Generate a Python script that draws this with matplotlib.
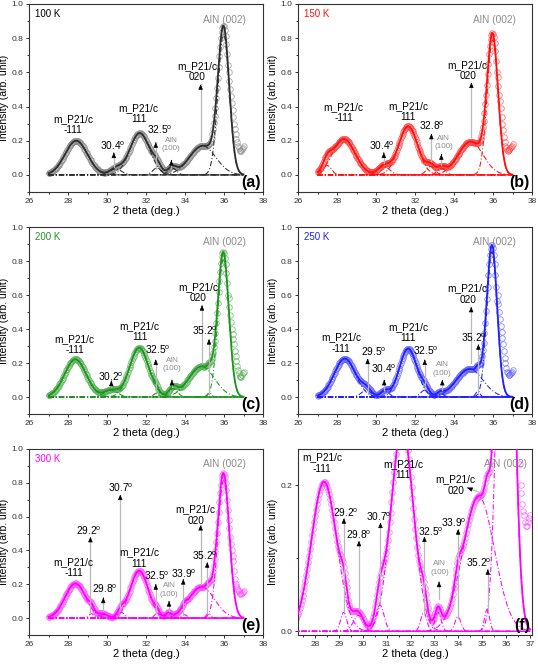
import numpy as np
import matplotlib
matplotlib.use('Agg')
import matplotlib.pyplot as plt
from matplotlib.ticker import MultipleLocator

plt.rcParams['font.family'] = ['Liberation Sans', 'DejaVu Sans']
plt.rcParams['mathtext.fontset'] = 'custom'
plt.rcParams['mathtext.rm'] = 'Liberation Sans'

# fitted peaks: (centre 2theta, height, FWHM)
peaks_100K = [(28.42, 0.200, 1.35), (30.45, 0.035, 0.70), (31.68, 0.245, 1.20),
              (32.55, 0.040, 0.50), (33.35, 0.040, 0.50), (34.90, 0.170, 1.60),
              (35.98, 0.825, 0.68)]
peaks_150K = [(27.50, 0.055, 0.50), (28.35, 0.210, 1.35), (30.40, 0.050, 0.70),
              (31.65, 0.285, 1.15), (32.80, 0.050, 0.50), (33.35, 0.040, 0.50),
              (34.85, 0.195, 1.50), (35.98, 0.790, 0.66)]
peaks_200K = [(28.38, 0.222, 1.30), (30.20, 0.040, 0.80), (31.65, 0.290, 1.15),
              (32.50, 0.020, 0.30), (33.40, 0.050, 0.50), (34.85, 0.180, 1.55),
              (35.25, 0.025, 0.25), (35.97, 0.810, 0.66)]
peaks_250K = [(28.40, 0.226, 1.28), (29.50, 0.040, 0.60), (30.45, 0.035, 0.50),
              (31.65, 0.285, 1.05), (32.50, 0.040, 0.50), (33.30, 0.020, 0.40),
              (34.80, 0.165, 1.60), (35.22, 0.035, 0.25), (35.95, 0.855, 0.62)]
peaks_300K = [(28.38, 0.205, 1.25), (29.20, 0.026, 0.30), (29.82, 0.022, 0.50),
              (30.72, 0.036, 0.40), (31.65, 0.280, 1.10), (32.55, 0.026, 0.30),
              (33.15, 0.026, 0.30), (33.98, 0.020, 0.30), (34.85, 0.185, 1.55),
              (35.20, 0.030, 0.25), (35.98, 0.815, 0.69)]

# measured points on the high-angle tail, where data leave the fit
tail_x = [36.24, 36.28, 36.32, 36.36, 36.40, 36.44, 36.48, 36.52, 36.56, 36.60,
          36.64, 36.68, 36.72, 36.76, 36.80, 36.84, 36.88, 36.92, 36.96, 37.00]
tail_100K = [0.60, 0.55, 0.50, 0.46, 0.42, 0.38, 0.34, 0.30, 0.27, 0.24,
             0.21, 0.19, 0.17, 0.155, 0.145, 0.14, 0.14, 0.15, 0.16, 0.17]
tail_150K = [0.57, 0.52, 0.47, 0.43, 0.39, 0.34, 0.30, 0.26, 0.22, 0.19,
             0.17, 0.155, 0.145, 0.14, 0.145, 0.15, 0.16, 0.165, 0.17, 0.18]
tail_200K = [0.58, 0.53, 0.48, 0.44, 0.40, 0.37, 0.34, 0.31, 0.27, 0.24,
             0.21, 0.18, 0.16, 0.14, 0.125, 0.12, 0.12, 0.13, 0.14, 0.15]
tail_250K = [0.60, 0.55, 0.50, 0.46, 0.42, 0.38, 0.35, 0.31, 0.27, 0.23,
             0.20, 0.17, 0.15, 0.14, 0.13, 0.13, 0.135, 0.14, 0.15, 0.16]
tail_300K = [0.58, 0.53, 0.48, 0.44, 0.40, 0.37, 0.34, 0.28, 0.23, 0.20,
             0.19, 0.175, 0.165, 0.16, 0.15, 0.145, 0.145, 0.15, 0.155, 0.16]

temps = ['100 K', '150 K', '200 K', '250 K', '300 K', '300 K']
letters = ['(a)', '(b)', '(c)', '(d)', '(e)', '(f)']

GREY = '#8c8c8c'
SUP = '$^\\mathrm{o}$'

panels = [
    dict(peaks=peaks_100K, tail=tail_100K, line='#2e2e2e', circ='#8a8a8a', lab='k',
         texts=[('m_P21/c\n-111', 28.25, 0.295), ('30.4' + SUP, 30.3, 0.17),
                ('m_P21/c\n111', 31.62, 0.36), ('32.5' + SUP, 32.72, 0.262),
                ('m_P21/c\n020', 34.63, 0.605)],
         aln100=(33.3, 0.178), aln002=(36.0, 0.905),
         arrows=[(30.35, 0.045, 30.35, 0.13), (32.5, 0.035, 32.5, 0.19),
                 (33.3, 0.04, 33.3, 0.086), (34.8, 0.2, 34.8, 0.53)]),
    dict(peaks=peaks_150K, tail=tail_150K, line='#ff1010', circ='#ff4545', lab='#ff1010',
         texts=[('m_P21/c\n-111', 28.33, 0.365), ('30.4' + SUP, 30.29, 0.17),
                ('m_P21/c\n111', 31.65, 0.37), ('32.8' + SUP, 32.84, 0.29),
                ('m_P21/c\n020', 34.7, 0.61)],
         aln100=(33.47, 0.19), aln002=(36.08, 0.905),
         arrows=[(30.4, 0.07, 30.4, 0.13), (32.84, 0.08, 32.84, 0.24),
                 (33.35, 0.06, 33.35, 0.12), (34.89, 0.22, 34.89, 0.54)]),
    dict(peaks=peaks_200K, tail=tail_200K, line='#1e941e', circ='#56b156', lab='#1e941e',
         texts=[('m_P21/c\n-111', 28.34, 0.31), ('30.2' + SUP, 30.19, 0.118),
                ('m_P21/c\n111', 31.67, 0.383), ('32.5' + SUP, 32.58, 0.275),
                ('m_P21/c\n020', 34.66, 0.615), ('35.2' + SUP, 35.02, 0.39)],
         aln100=(33.33, 0.19), aln002=(36.0, 0.91),
         arrows=[(30.22, 0.06, 30.22, 0.095), (32.5, 0.03, 32.5, 0.22),
                 (33.33, 0.06, 33.33, 0.1), (34.87, 0.2, 34.87, 0.54),
                 (35.23, 0.02, 35.23, 0.34)]),
    dict(peaks=peaks_250K, tail=tail_250K, line='#2020ff', circ='#6464ff', lab='#2020ff',
         texts=[('m_P21/c\n-111', 28.2, 0.318), ('29.5' + SUP, 29.9, 0.265),
                ('30.4' + SUP, 30.39, 0.167), ('m_P21/c\n111', 31.65, 0.378),
                ('32.5' + SUP, 32.55, 0.27), ('m_P21/c\n020', 34.7, 0.605),
                ('35.2' + SUP, 35.02, 0.35)],
         aln100=(33.4, 0.165), aln002=(36.05, 0.91),
         arrows=[(29.57, 0.03, 29.57, 0.225), (30.42, 0.04, 30.42, 0.1),
                 (32.5, 0.05, 32.5, 0.22), (33.4, 0.04, 33.4, 0.1),
                 (34.88, 0.2, 34.88, 0.53), (35.25, 0.02, 35.25, 0.31)]),
    dict(peaks=peaks_300K, tail=tail_300K, line='#ff00ff', circ='#ff50ff', lab='#ff00ff',
         texts=[('m_P21/c\n-111', 28.28, 0.297), ('29.2' + SUP, 29.08, 0.518),
                ('29.8' + SUP, 29.86, 0.176), ('30.7' + SUP, 30.72, 0.77),
                ('m_P21/c\n111', 31.65, 0.355), ('32.5' + SUP, 32.53, 0.25),
                ('33.9' + SUP, 33.95, 0.26), ('m_P21/c\n020', 34.55, 0.61),
                ('35.2' + SUP, 35.0, 0.37)],
         aln100=(33.18, 0.166), aln002=(36.0, 0.91),
         arrows=[(29.15, 0.03, 29.15, 0.48), (29.81, 0.04, 29.81, 0.12),
                 (30.68, 0.04, 30.68, 0.73), (32.5, 0.03, 32.5, 0.2),
                 (33.18, 0.04, 33.18, 0.1), (33.91, 0.03, 33.91, 0.23),
                 (34.8, 0.2, 34.8, 0.55), (35.14, 0.03, 35.14, 0.33)]),
]
# zoom of the 300 K pattern
panels.append(dict(panels[4]))
panels[5].update(
    texts=[('m_P21/c\n-111', 28.31, 0.2305), ('m_P21/c\n111', 31.69, 0.222),
           ('m_P21/c\n020', 33.89, 0.2005), ('29.2' + SUP, 29.28, 0.163),
           ('29.8' + SUP, 29.84, 0.133), ('30.7' + SUP, 30.67, 0.157),
           ('32.5' + SUP, 32.86, 0.137), ('33.9' + SUP, 33.8, 0.149),
           ('35.2' + SUP, 34.85, 0.094)],
    aln100=(33.22, 0.087), aln002=(35.97, 0.23),
    arrows=[(29.21, 0.027, 29.21, 0.155), (29.84, 0.031, 29.84, 0.124),
            (30.74, 0.038, 30.74, 0.149), (32.58, 0.025, 32.58, 0.13),
            (33.99, 0.018, 33.99, 0.14), (33.19, 0.045, 33.19, 0.068),
            (35.23, 0.027, 35.23, 0.085), (34.92, 0.19, 34.37, 0.197)])


def gauss(x, c, h, w):
    s = w / 2.3548
    return h * np.exp(-0.5 * ((x - c) / s) ** 2)


def model(x, peaks):
    return sum(gauss(x, *p) for p in peaks)


def arrow(ax, x0, y0, x1, y1):
    ax.plot([x0, x1], [y0, y1], color='#b8b8b8', lw=0.9, zorder=4)
    ax.annotate('', xy=(x1, y1), xytext=(x0 + 0.97 * (x1 - x0), y0 + 0.97 * (y1 - y0)),
                arrowprops=dict(arrowstyle='-|>,head_length=0.3,head_width=0.13',
                                color='k', lw=0.5, shrinkA=0, shrinkB=0), zorder=5)


x_fit = np.linspace(27.0, 37.0, 801)
x_obs = np.arange(27.0, 36.21, 0.04)

fig = plt.figure(figsize=(5.38, 6.67), dpi=100)
lefts = [29 / 538, 298 / 538]
w = 234 / 538
rows = [(1 - 192 / 667, 188 / 667), (1 - 414 / 667, 187 / 667), (1 - 635 / 667, 186 / 667)]

for i, p in enumerate(panels):
    b, h = rows[i // 2]
    ax = fig.add_axes([lefts[i % 2], b, w, h])
    pk = p['peaks']
    xo = np.concatenate([x_obs, tail_x])
    yo = np.concatenate([model(x_obs, pk), p['tail']])
    ax.plot(xo, yo, 'o', ms=4, mfc='none', mec=p['circ'], mew=0.6, alpha=0.75, zorder=2)
    for c in pk:
        ax.plot(x_fit, gauss(x_fit, *c), color=p['line'], lw=0.75,
                ls=(0, (5, 2, 1, 2)), zorder=3)
    ax.plot(x_fit, model(x_fit, pk), color=p['line'], lw=1.3, zorder=3)

    for t, x, y in p['texts']:
        ax.text(x, y, t, ha='center', va='center', fontsize=7.3, linespacing=1.15, zorder=6)
    ax.text(*p['aln100'], 'AlN\n(100)', ha='center', va='center', fontsize=5.8,
            color=GREY, linespacing=1.25, zorder=6)
    ax.text(*p['aln002'], 'AlN (002)', ha='center', va='center', fontsize=7.3,
            color=GREY, zorder=6)
    for a in p['arrows']:
        arrow(ax, *a)

    if i < 5:
        ax.set_xlim(26, 38)
        ax.set_ylim(-0.1, 1.0)
        ax.xaxis.set_major_locator(MultipleLocator(2))
        ax.xaxis.set_minor_locator(MultipleLocator(1))
        ax.yaxis.set_major_locator(MultipleLocator(0.2))
        ax.yaxis.set_minor_locator(MultipleLocator(0.1))
        ax.text(0.025, 0.945, temps[i], transform=ax.transAxes, ha='left', va='center',
                fontsize=7, color=p['lab'])
    else:
        ax.set_xlim(27.29, 37.08)
        ax.set_ylim(-0.005, 0.25)
        ax.xaxis.set_major_locator(MultipleLocator(1))
        ax.xaxis.set_minor_locator(MultipleLocator(0.5))
        ax.yaxis.set_major_locator(MultipleLocator(0.2))
        ax.yaxis.set_minor_locator(MultipleLocator(0.1))
    ax.yaxis.set_major_formatter(plt.FuncFormatter(lambda v, _: f'{v:.1f}'))
    ax.text(0.99, 0.05, letters[i], transform=ax.transAxes, ha='right', va='center',
            fontsize=11.5, fontweight='bold', zorder=7)

    ax.tick_params(which='both', direction='out', labelsize=6, width=0.7,
                   colors='#333333', pad=1.5)
    ax.tick_params(which='major', length=2.5)
    ax.tick_params(which='minor', length=1.5)
    for s in ax.spines.values():
        s.set_linewidth(0.8)
        s.set_color('#333333')
    ax.set_xlabel('2 theta (deg.)', fontsize=8, labelpad=1)
    ax.set_ylabel('Intensity (arb. unit)', fontsize=7.5, labelpad=1.5)

fig.savefig('out.png', dpi=100)
